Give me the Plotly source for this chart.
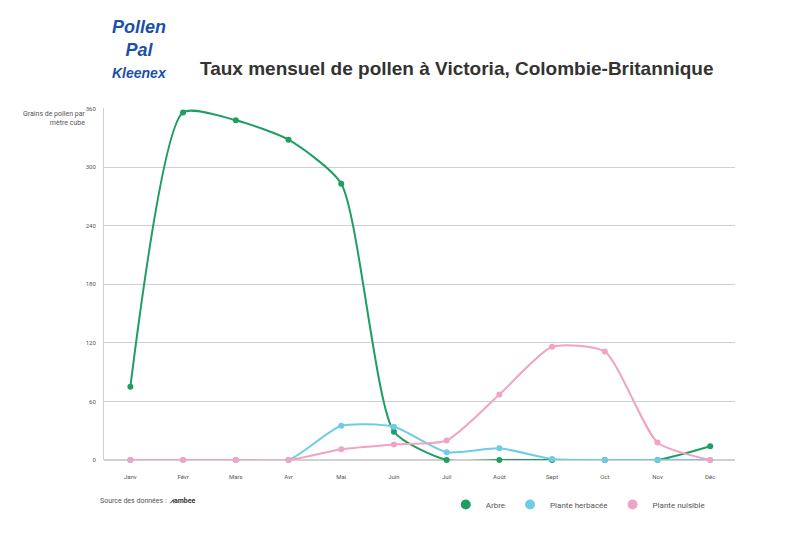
import plotly.graph_objects as go

months = ["Janv", "Févr", "Mars", "Avr", "Mai", "Juin", "Juil", "Août", "Sept", "Oct", "Nov", "Déc"]
arbre = [75, 356, 348, 328, 283, 29, 0, 0, 0, 0, 0, 14]
herbacee = [0, 0, 0, 0, 35, 34, 8, 12, 1, 0, 0, 0]
nuisible = [0, 0, 0, 0, 11, 16, 20, 67, 116, 111, 18, 0]
yticks = [0, 60, 120, 180, 240, 300, 360]

fig = go.Figure()
series = [("Arbre", arbre, "#1f9e63"), ("Plante herbacée", herbacee, "#6fcbe8"),
          ("Plante nuisible", nuisible, "#f0a3c4")]
for name, vals, col in series:
    fig.add_trace(go.Scatter(x=months, y=vals, name=name, mode="lines+markers", showlegend=False,
                             line=dict(color=col, width=2, shape="spline", smoothing=0.6),
                             marker=dict(size=6, color=col), cliponaxis=False))
for name, vals, col in series:
    fig.add_trace(go.Scatter(x=[months[0]], y=[None], name=name, mode="markers",
                             marker=dict(size=10, color=col)))

fig.update_layout(
    width=800, height=533, plot_bgcolor="white", paper_bgcolor="white",
    margin=dict(l=96, r=73, t=100, b=81, autoexpand=False),
    font=dict(family="Roboto, Arial", color="#555", size=6),
    title=dict(text="<b>Taux mensuel de pollen à Victoria, Colombie-Britannique</b>",
               x=0.24, xanchor="left", y=0.9, font=dict(size=19, color="#333", family="Liberation Sans, Arial")),
    legend=dict(orientation="h", x=0.96, xanchor="right", y=-0.085, yanchor="top",
                font=dict(size=8, color="#555"), itemwidth=30),
    xaxis=dict(showgrid=False, ticks="", tickfont=dict(size=6), showline=False, range=[-0.5, 11.47],
               automargin=False, ticklabelstandoff=12),
    yaxis=dict(tickvals=yticks, range=[0, 360.5], gridcolor="#d0d0d0", gridwidth=1, showline=True,
               linecolor="#d0d0d0", zeroline=True, zerolinecolor="#d0d0d0", tickfont=dict(size=6),
               ticks="", automargin=False, ticklabelstandoff=6),
    annotations=[
        dict(text="Grains de pollen par<br>mètre cube", xref="paper", yref="paper", x=-0.025, y=1.0,
             xanchor="right", yanchor="top", showarrow=False, align="right", font=dict(size=7, color="#555")),
        dict(text="Source des données :  <b style='color:#333'>⩘ambee</b>", xref="paper", yref="paper", x=-0.01, y=-0.1,
             xanchor="left", yanchor="top", showarrow=False, font=dict(size=7, color="#555")),
        dict(text="<b><i>Pollen<br>Pal</i></b>", xref="paper", yref="paper", x=0.01, y=1.265,
             xanchor="left", yanchor="top", showarrow=False, align="center",
             font=dict(size=18, color="#1c4fa8", family="Liberation Sans, Arial")),
        dict(text="<b><i>Kleenex</i></b>", xref="paper", yref="paper", x=0.01, y=1.07,
             xanchor="left", yanchor="bottom", showarrow=False,
             font=dict(size=14, color="#1c4fa8", family="Liberation Sans, Arial")),
    ],
)
fig.write_html("out.html")
